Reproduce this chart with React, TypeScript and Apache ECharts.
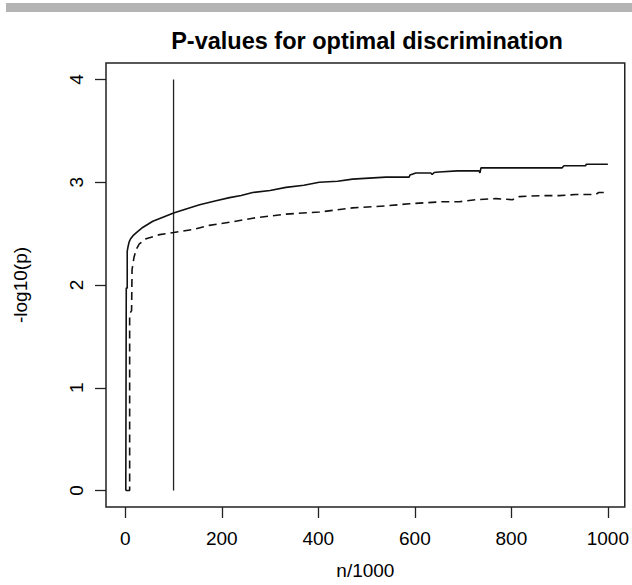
import React, { useEffect, useRef } from "react";
import * as echarts from "echarts";

const titleText = "P-values for optimal discrimination";
const xAxisName = "n/1000";
const yAxisName = "-log10(p)";
const xTickValues = [0, 200, 400, 600, 800, 1000];
const yTickValues = [0, 1, 2, 3, 4];
const cutoffX = 100;
const cutoffY = [0, 4];

const solidX = [1, 2, 2, 4, 4, 6, 8, 11, 16, 23, 36, 57, 78, 100, 126, 154, 188, 216, 240, 264, 300, 333, 370, 402, 440, 471, 505, 540, 588, 590, 602, 633, 636, 640, 650, 688, 733, 735, 737, 905, 909, 954, 955, 1000];
const solidY = [0, 0, 1.97, 1.97, 2.33, 2.38, 2.42, 2.45, 2.48, 2.51, 2.56, 2.62, 2.66, 2.7, 2.74, 2.78, 2.82, 2.85, 2.87, 2.9, 2.92, 2.95, 2.97, 3.0, 3.01, 3.03, 3.04, 3.05, 3.05, 3.07, 3.09, 3.09, 3.075, 3.095, 3.1, 3.11, 3.11, 3.09, 3.14, 3.14, 3.16, 3.16, 3.175, 3.175];

const dashedX = [1, 9, 9, 13, 14, 18, 23, 29, 43, 71, 100, 140, 174, 216, 264, 333, 402, 471, 540, 588, 657, 692, 726, 768, 802, 816, 864, 899, 933, 975, 981, 1000];
const dashedY = [0, 0, 1.72, 1.75, 2.15, 2.27, 2.35, 2.4, 2.45, 2.49, 2.51, 2.54, 2.58, 2.61, 2.65, 2.69, 2.71, 2.75, 2.77, 2.79, 2.81, 2.81, 2.83, 2.84, 2.83, 2.86, 2.87, 2.87, 2.88, 2.88, 2.9, 2.9];

const FONT = "'Liberation Sans', Arial, sans-serif";

export default function App() {
  const ref = useRef<HTMLDivElement>(null);
  useEffect(() => {
    if (!ref.current) return;
    const chart = echarts.init(ref.current, undefined, { renderer: "svg" });
    const solid = solidX.map((x, i) => [x, solidY[i]]);
    const dashed = dashedX.map((x, i) => [x, dashedY[i]]);
    const cutoff = cutoffY.map((y) => [cutoffX, y]);
    chart.setOption({
      animation: false,
      backgroundColor: "#ffffff",
      title: {
        text: titleText,
        left: 362,
        top: 24,
        textAlign: "center",
        textStyle: { fontFamily: FONT, fontSize: 23.5, fontWeight: "bold", color: "#000" },
      },
      graphic: [
        { type: "rect", shape: { x: 6, y: 3, width: 626, height: 9 }, style: { fill: "#b4b4b4" } },
      ],
      grid: {
        left: 106,
        top: 63,
        width: 520,
        height: 450,
        show: true,
        borderColor: "#222",
        borderWidth: 1.5,
        backgroundColor: "transparent",
      },
      xAxis: {
        type: "value",
        min: -40,
        max: 1035,
        name: xAxisName,
        nameLocation: "middle",
        nameGap: 54,
        nameTextStyle: { fontFamily: FONT, fontSize: 19, color: "#000" },
        axisLine: { show: false, onZero: false },
        splitLine: { show: false },
        axisTick: {
          show: true,
          customValues: xTickValues,
          length: 11,
          inside: false,
          lineStyle: { color: "#222", width: 1.3 },
        },
        axisLabel: {
          customValues: xTickValues,
          margin: 22,
          fontFamily: FONT,
          fontSize: 19,
          color: "#000",
          formatter: (v: number) => String(v),
        },
      },
      yAxis: {
        type: "value",
        min: -0.16,
        max: 4.16,
        name: yAxisName,
        nameLocation: "middle",
        nameGap: 76,
        nameRotate: 90,
        nameTextStyle: { fontFamily: FONT, fontSize: 19, color: "#000" },
        axisLine: { show: false, onZero: false },
        splitLine: { show: false },
        axisTick: {
          show: true,
          customValues: yTickValues,
          length: 11,
          inside: false,
          lineStyle: { color: "#222", width: 1.3 },
        },
        axisLabel: {
          customValues: yTickValues,
          rotate: 90,
          margin: 20,
          fontFamily: FONT,
          fontSize: 19,
          color: "#000",
          formatter: (v: number) => String(v),
        },
      },
      series: [
        {
          type: "line",
          data: solid,
          showSymbol: false,
          lineStyle: { color: "#111", width: 1.6, type: "solid" },
          z: 3,
        },
        {
          type: "line",
          data: dashed,
          showSymbol: false,
          lineStyle: { color: "#111", width: 1.6, type: [8, 5] },
          z: 3,
        },
        {
          type: "line",
          data: cutoff,
          showSymbol: false,
          lineStyle: { color: "#222", width: 1.3 },
          z: 2,
        },
      ],
    });
    return () => chart.dispose();
  }, []);
  return (
    <div
      ref={ref}
      style={{ position: "fixed", left: 0, top: 0, width: 632, height: 585, background: "#fff" }}
    />
  );
}
